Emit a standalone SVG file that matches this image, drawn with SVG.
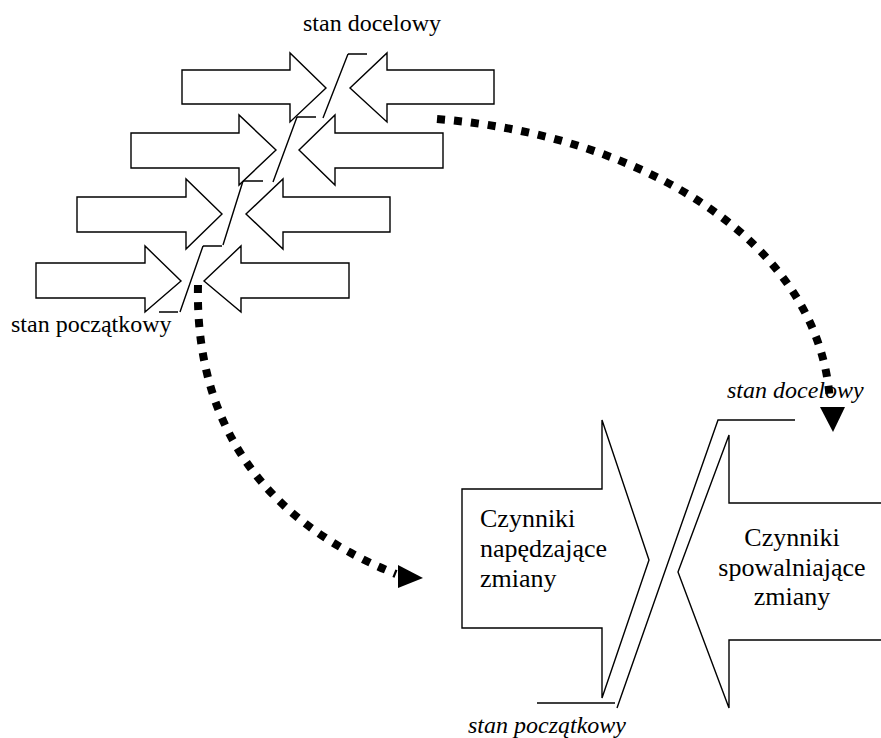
<svg xmlns="http://www.w3.org/2000/svg" width="881" height="738" viewBox="0 0 881 738">
<style>
.ar{fill:#fff;stroke:#000;stroke-width:1.4;stroke-linejoin:miter}
.ln{fill:none;stroke:#000;stroke-width:1.4}
.dot{fill:none;stroke:#000;stroke-width:8;stroke-dasharray:8 9}
.head{fill:#000}
.t{font-family:"Liberation Serif","Times New Roman",serif;fill:#000}
.lbl{font-size:24px}
.it{font-size:24px;font-style:italic}
.big{font-size:26px}
</style>
<rect width="881" height="738" fill="#fff"/>
<g id="row1">
<polygon class="ar" points="182,70 290,70 290,53 326,88 290,122 290,104 182,104"/>
<polygon class="ar" points="494,70 387,70 387,53 350,88 387,122 387,104 494,104"/>
</g>
<g id="row2">
<polygon class="ar" points="131,133 239,133 239,115 276,150 239,185 239,168 131,168"/>
<polygon class="ar" points="443,133 335,133 335,115 299,150 335,185 335,168 443,168"/>
</g>
<g id="row3">
<polygon class="ar" points="77,197 186,197 186,179 222,214 186,249 186,232 77,232"/>
<polygon class="ar" points="390,197 283,197 283,179 246,214 283,249 283,232 390,232"/>
</g>
<g id="row4">
<polygon class="ar" points="36,263 145,263 145,246 181,281 145,312 145,298 36,298"/>
<polygon class="ar" points="349,263 241,263 241,246 204,281 241,312 241,298 349,298"/>
</g>
<g id="small-boundary">
<path class="ln" d="M348,54 H367 M348,54 L323,118 M297,117 H316 M297,117 L273,182 M243,181 H263 M243,181 L223,245 M203,246 H222 M203,246 L180,312 M159,312 H178"/>
</g>
<g id="label-top"><text class="t lbl" x="372" y="31" text-anchor="middle">stan docelowy</text></g>
<g id="label-left"><text class="t lbl" x="11" y="332">stan początkowy</text></g>
<g id="driving">
<polygon class="ar" points="462,489 602,489 602,420 649,560 602,698 602,628 462,628"/>
<text class="t big" x="480" y="527">Czynniki</text>
<text class="t big" x="480" y="557">napędzające</text>
<text class="t big" x="480" y="587">zmiany</text>
</g>
<g id="restraining">
<polygon class="ar" points="900,503 729,503 729,435 678,572 729,708 729,640 900,640"/>
<text class="t big" x="792" y="546" text-anchor="middle">Czynniki</text>
<text class="t big" x="792" y="576" text-anchor="middle">spowalniające</text>
<text class="t big" x="792" y="605" text-anchor="middle">zmiany</text>
</g>
<g id="big-boundary">
<path class="ln" d="M537,703 H615 M617,708 L718,420 H795"/>
</g>
<g id="label-big-top"><text class="t it" x="727" y="398">stan docelowy</text></g>
<g id="label-big-bottom"><text class="t it" x="468" y="733">stan początkowy</text></g>
<g id="connectors">
<path class="dot" d="M437,119 C640,135 820,240 830,402"/>
<polygon class="head" points="820,407 845,407 833,432"/>
<path class="dot" d="M198,285 C195,420 260,520 396,574"/>
<polygon class="head" points="398,565 398,588 423,578"/>
</g>
</svg>
